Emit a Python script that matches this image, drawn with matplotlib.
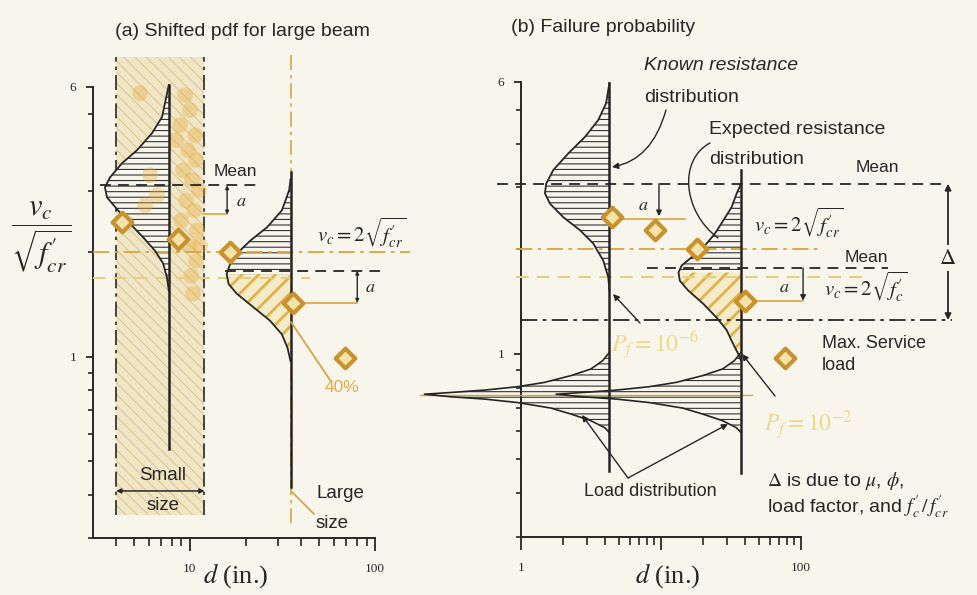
import matplotlib
matplotlib.use('Agg')
import matplotlib.pyplot as plt
import matplotlib.transforms as mtransforms
from matplotlib.path import Path
from matplotlib.patches import FancyArrowPatch
from matplotlib.ticker import FixedLocator, FixedFormatter, NullFormatter

plt.rcParams['font.family'] = ['Liberation Sans', 'DejaVu Sans']
plt.rcParams['mathtext.fontset'] = 'stix'
plt.rcParams['hatch.linewidth'] = 0.8

# ------------------------------------------------------------------ data
# panel (a): shifted pdf for large beam
band_x = [4.0, 12.0]                 # small-size test range (in.)
band_y = [0.35, 7.3]
small_base_x = 7.7
small_base_y = [6.07, 0.54]
small_pdf_y = [6.07, 4.91, 4.41, 3.94, 3.61, 3.29, 3.08, 2.88, 2.64, 2.42, 2.21, 2.02, 1.86, 1.69, 1.55]
small_pdf_x = [7.7, 7.08, 6.25, 5.19, 4.30, 3.71, 3.48, 3.57, 4.10, 4.75, 5.59, 6.49, 7.17, 7.53, 7.7]
large_base_x = 35.0
large_base_y = [3.4, 0.42]
large_guide_y = [7.4, 0.33]
large_pdf_y = [3.25, 3.02, 2.64, 2.36, 2.16, 1.98, 1.85, 1.73, 1.62, 1.52, 1.39, 1.27, 1.16, 1.06, 0.97]
large_pdf_x = [35.0, 34.4, 31.4, 26.1, 21.2, 17.9, 16.5, 15.8, 16.2, 17.9, 22.0, 27.1, 31.4, 33.7, 35.0]
large_split = 7                        # index of the pdf peak
cloud_x = [9.43, 10.04, 8.86, 10.68, 9.79, 10.81, 9.20, 10.28, 11.22, 9.55, 10.55, 8.97,
           10.95, 9.91, 10.81, 10.16, 10.41, 6.10, 6.65, 5.73, 5.39, 8.43, 11.36]
cloud_y = [5.68, 5.14, 4.65, 4.35, 3.94, 3.69, 3.45, 3.23, 3.02, 2.82, 2.64, 2.47,
           2.31, 2.09, 1.89, 1.71, 1.52, 3.34, 2.92, 2.73, 5.75, 4.21, 2.09]
diamA_x = [4.29, 8.64, 16.5, 36.1, 69.0]
diamA_y = [2.44, 2.19, 2.00, 1.43, 0.99]
meanA_small, meanA_small_x = 3.12, [3.27, 23.0]
meanA_large, meanA_large_x = 1.77, [15.5, 106.0]
vcA, vcA_x = 2.0, [3.0, 155.0]
vcA_shift, vcA_shift_x = 1.69, [3.0, 44.6]
aA_small = dict(x=15.9, y0=3.12, y1=2.57, ox=[12.0, 15.9])
aA_large = dict(x=80.2, y0=1.77, y1=1.43, ox=[37.0, 80.2])
small_arrow_y = 0.41

# panel (b): failure probability
known_base_x = 4.3
known_base_y = [5.95, 0.463]
known_pdf_y = [5.95, 5.21, 4.67, 4.18, 3.75, 3.36, 3.07, 2.88, 2.69, 2.46, 2.26, 2.07, 1.85, 1.66, 1.52]
known_pdf_x = [4.3, 4.07, 3.58, 2.88, 2.19, 1.71, 1.52, 1.49, 1.62, 2.02, 2.65, 3.30, 3.89, 4.22, 4.3]
exp_base_x = 37.5
exp_base_y = [3.36, 0.457]
exp_pdf_y = [3.07, 2.88, 2.63, 2.41, 2.21, 2.02, 1.89, 1.79, 1.71, 1.62, 1.52, 1.39, 1.27, 1.17, 1.09, 1.0, 0.957]
exp_pdf_x = [37.5, 34.9, 32.1, 28.0, 24.4, 20.2, 16.6, 14.1, 13.4, 13.7, 15.7, 20.2, 25.1, 29.6, 32.1, 35.8, 37.5]
exp_split = 8
load_pdf_y = [1.01, 0.957, 0.906, 0.867, 0.829, 0.806, 0.788, 0.776, 0.767, 0.754, 0.743,
              0.726, 0.700, 0.673, 0.644, 0.616, 0.596]
load_pdf_ratio = [1.0, 0.896, 0.739, 0.532, 0.343, 0.221, 0.128, 0.074, 0.0477, 0.074, 0.128,
                  0.221, 0.383, 0.532, 0.739, 0.921, 1.0]
load_mean, load_mean_x = 0.765, [0.19, 45.0]
diamB_x = [4.47, 9.1, 18.1, 40.0, 77.3]
diamB_y = [2.47, 2.26, 2.00, 1.42, 0.976]
meanB_known, meanB_known_x = 3.07, [0.68, 1040.0]
meanB_exp, meanB_exp_x = 1.76, [7.98, 421.0]
vcB_cr, vcB_cr_x = 2.0, [0.93, 133.0]
vcB_c, vcB_c_x = 1.66, [0.93, 313.0]
service, service_x = 1.25, [1.0, 1205.0]
delta_x = 1128.0
aB_upper = dict(x=9.72, y0=3.07, y1=2.48, oy=2.44, ox=[4.56, 14.9])
aB_lower = dict(x=104.0, y0=1.76, y1=1.42, oy=1.42, ox=[45.0, 104.0])

# ------------------------------------------------------------------ style
BG = '#f7f5ec'
INK = '#262626'
GOLD = '#c8922c'
GOLD_FACE = '#f3e2ab'
ORANGE_LINE = '#d9a440'
YELLOW_LINE = '#e3cf80'
BAND_FACE = '#f0e6c6'
BAND_HATCH = '#d8c58c'
ORANGE_HATCH = '#e0b24a'
ORANGE_FACE = '#f5ebc8'
PALE = '#ecd98c'
SERIF = 'Liberation Serif'

W, H = 978, 595
fig = plt.figure(figsize=(W / 100, H / 100), dpi=100, facecolor=BG)
PX = mtransforms.Affine2D().scale(1 / W, -1 / H).translate(0, 1) + fig.transFigure

axA = fig.add_axes([93 / W, 1 - 538 / H, 282 / W, (538 - 86.8) / H])
axB = fig.add_axes([520.7 / W, 1 - 536.7 / H, 280 / W, (536.7 - 82) / H])


def setup(ax, xlim, xmajor, xlabels, xminor):
    ax.set_xscale('log')
    ax.set_yscale('log')
    ax.set_xlim(*xlim)
    ax.set_ylim(0.3, 6)
    ax.patch.set_alpha(0)
    for s in ['top', 'right']:
        ax.spines[s].set_visible(False)
    for s in ['left', 'bottom']:
        ax.spines[s].set_linewidth(1.4)
        ax.spines[s].set_color(INK)
    ax.xaxis.set_major_locator(FixedLocator(xmajor))
    ax.xaxis.set_major_formatter(FixedFormatter(xlabels))
    ax.xaxis.set_minor_locator(FixedLocator(xminor))
    ax.xaxis.set_minor_formatter(NullFormatter())
    ax.yaxis.set_major_locator(FixedLocator([1, 6]))
    ax.yaxis.set_major_formatter(FixedFormatter(['1', '6']))
    ax.yaxis.set_minor_locator(FixedLocator([0.3, 0.4, 0.5, 0.6, 0.7, 0.8, 0.9, 2, 3, 4, 5]))
    ax.yaxis.set_minor_formatter(NullFormatter())
    ax.tick_params(axis='x', which='major', length=9, width=1.3, pad=9, labelsize=9.5,
                   colors=INK, labelfontfamily=SERIF)
    ax.tick_params(axis='x', which='minor', length=5.5, width=1.2, colors=INK)
    ax.tick_params(axis='y', which='major', length=5, width=1.3, pad=7, labelsize=9.5,
                   colors=INK, labelfontfamily=SERIF)
    ax.tick_params(axis='y', which='minor', length=3.5, width=1.2, colors=INK)


setup(axA, (3, 100), [10, 100], ['10', '100'], [4, 5, 6, 7, 8, 9, 20, 30, 40, 50, 60, 70, 80, 90])
setup(axB, (1, 100), [1, 10, 100], ['1', '', '100'],
      [2, 3, 4, 5, 6, 7, 8, 9, 20, 30, 40, 50, 60, 70, 80, 90])


def fill_hatch(ax, xs, ys, base, face, hcolor, hatch, z, hlw=0.8):
    if face != 'none':
        ax.fill_betweenx(ys, xs, base, facecolor=face, edgecolor='none', zorder=z, clip_on=False)
    with plt.rc_context({'hatch.linewidth': hlw}):
        ax.fill_betweenx(ys, xs, base, facecolor='none', edgecolor=hcolor, hatch=hatch,
                         linewidth=0, zorder=z + 0.1, clip_on=False)


def hline(ax, y, xr, color, ls, lw=1.3, z=5):
    ax.plot(xr, [y, y], color=color, ls=ls, lw=lw, zorder=z, clip_on=False)


def vline(ax, x, yr, color, ls='-', lw=1.8, z=5):
    ax.plot([x, x], yr, color=color, ls=ls, lw=lw, zorder=z, clip_on=False)


def arrow(ax, x, y0, y1, style='-|>', ms=7, color=INK, lw=1.0):
    ax.annotate('', xy=(x, y1), xytext=(x, y0), annotation_clip=False,
                arrowprops=dict(arrowstyle=style, color=color, lw=lw, mutation_scale=ms,
                                shrinkA=0, shrinkB=0), zorder=6)


DASH = (0, (6, 4))
DASHDOT = (0, (9, 3, 2, 3))

# ------------------------------------------------------------------ panel (a)
axA.fill_between(band_x, band_y[0], band_y[1], facecolor=BAND_FACE, edgecolor='none',
                 zorder=1, clip_on=False)
with plt.rc_context({'hatch.linewidth': 0.7}):
    axA.fill_between(band_x, band_y[0], band_y[1], facecolor='none', edgecolor=BAND_HATCH,
                     hatch='\\\\\\', linewidth=0, zorder=1.1, clip_on=False)
for bx in band_x:
    vline(axA, bx, band_y, INK, DASHDOT, lw=1.2, z=2)

fill_hatch(axA, small_pdf_x, small_pdf_y, small_base_x, BG, '#333333', '---', 2)
axA.scatter(cloud_x, cloud_y, s=130, color='#e9ad3c', alpha=0.38, edgecolor='none',
            zorder=2.5, clip_on=False)
axA.plot(small_pdf_x, small_pdf_y, color=INK, lw=1.3, zorder=4, clip_on=False)
vline(axA, small_base_x, small_base_y, INK, lw=1.8, z=4)

vline(axA, large_base_x, large_guide_y, ORANGE_LINE, DASHDOT, lw=1.2, z=1.5)
fill_hatch(axA, large_pdf_x[:large_split + 1], large_pdf_y[:large_split + 1], large_base_x,
           'none', '#333333', '---', 2)
fill_hatch(axA, large_pdf_x[large_split:], large_pdf_y[large_split:], large_base_x,
           ORANGE_FACE, ORANGE_HATCH, '//', 2, hlw=2.0)
axA.plot(large_pdf_x, large_pdf_y, color=INK, lw=1.3, zorder=4, clip_on=False)
vline(axA, large_base_x, large_base_y, INK, lw=1.8, z=4)

hline(axA, vcA, vcA_x, ORANGE_LINE, DASHDOT, lw=1.3, z=3)
hline(axA, vcA_shift, vcA_shift_x, YELLOW_LINE, DASH, lw=1.5, z=3)
hline(axA, meanA_small, meanA_small_x, INK, DASH, lw=1.3)
hline(axA, meanA_large, meanA_large_x, INK, DASH, lw=1.3)

for d in (aA_small, aA_large):
    hline(axA, d['y1'], d['ox'], ORANGE_LINE, '-', lw=1.2, z=4)
    arrow(axA, d['x'], d['y0'], d['y1'], style='<|-|>', ms=5)

axA.scatter(diamA_x, diamA_y, marker='D', s=100, facecolor=GOLD_FACE, edgecolor=GOLD,
            linewidth=3, zorder=7, clip_on=False)
axA.annotate('', xy=(band_x[0], small_arrow_y), xytext=(band_x[1], small_arrow_y),
             annotation_clip=False,
             arrowprops=dict(arrowstyle='<|-|>', color=INK, lw=1.1, mutation_scale=7,
                             shrinkA=0, shrinkB=0), zorder=6)

# ------------------------------------------------------------------ panel (b)
fill_hatch(axB, known_pdf_x, known_pdf_y, known_base_x, 'none', '#333333', '---', 2)
axB.plot(known_pdf_x, known_pdf_y, color=INK, lw=1.3, zorder=4, clip_on=False)

fill_hatch(axB, exp_pdf_x[:exp_split + 1], exp_pdf_y[:exp_split + 1], exp_base_x,
           'none', '#333333', '---', 2)
fill_hatch(axB, exp_pdf_x[exp_split:], exp_pdf_y[exp_split:], exp_base_x,
           ORANGE_FACE, ORANGE_HATCH, '//', 2, hlw=2.0)
axB.plot(exp_pdf_x, exp_pdf_y, color=INK, lw=1.3, zorder=4, clip_on=False)

for base in (known_base_x, exp_base_x):
    lx = [base * r for r in load_pdf_ratio]
    fill_hatch(axB, lx, load_pdf_y, base, 'none', '#333333', '---', 2.2)
    axB.plot(lx, load_pdf_y, color=INK, lw=1.2, zorder=4, clip_on=False)
hline(axB, load_mean, load_mean_x, ORANGE_LINE, '-', lw=1.0, z=3)

vline(axB, known_base_x, known_base_y, INK, lw=1.8, z=4.5)
vline(axB, exp_base_x, exp_base_y, INK, lw=1.8, z=4.5)

hline(axB, vcB_cr, vcB_cr_x, ORANGE_LINE, DASHDOT, lw=1.3, z=3)
hline(axB, vcB_c, vcB_c_x, YELLOW_LINE, DASH, lw=1.5, z=3)
hline(axB, meanB_known, meanB_known_x, INK, DASH, lw=1.3)
hline(axB, meanB_exp, meanB_exp_x, INK, DASH, lw=1.3)
hline(axB, service, service_x, INK, DASHDOT, lw=1.3)

hline(axB, aB_upper['oy'], aB_upper['ox'], ORANGE_LINE, '-', lw=1.2, z=4)
hline(axB, aB_lower['oy'], aB_lower['ox'], ORANGE_LINE, '-', lw=1.2, z=4)
arrow(axB, aB_upper['x'], aB_upper['y0'], aB_upper['y1'], ms=8)
arrow(axB, aB_lower['x'], aB_lower['y0'], aB_lower['y1'], ms=8)
arrow(axB, delta_x, meanB_known, service, style='<|-|>', ms=9, lw=1.3)

axB.scatter(diamB_x, diamB_y, marker='D', s=100, facecolor=GOLD_FACE, edgecolor=GOLD,
            linewidth=3, zorder=7, clip_on=False)

# ------------------------------------------------------------------ text (reference pixel layout)
def txt(x, y, s, size=12, ha='left', va='center', **kw):
    fig.text(x, y, s, transform=PX, ha=ha, va=va, fontsize=size, color=kw.pop('color', INK), **kw)


def pointer(p0, p1, color=INK, style='-|>', lw=1.0):
    fig.add_artist(FancyArrowPatch(posA=p0, posB=p1, transform=PX, arrowstyle=style,
                                   mutation_scale=9, color=color, lw=lw,
                                   shrinkA=0, shrinkB=0, zorder=8))


def curve_pointer(verts, codes, style='-|>'):
    fig.add_artist(FancyArrowPatch(path=Path(verts, codes), transform=PX, arrowstyle=style,
                                   mutation_scale=9, color=INK, lw=1.0, zorder=8))


txt(115, 31, '(a) Shifted pdf for large beam', 14)
txt(511, 27, '(b) Failure probability', 14)

txt(41, 237, r'$\dfrac{v_c}{\sqrt{f_{cr}^{\prime}}}$', 22, ha='center')
txt(236, 576, r'$d$ (in.)', 19, ha='center', family=SERIF)
txt(668, 576, r'$d$ (in.)', 19, ha='center', family=SERIF)

txt(235, 172, 'Mean', 12.5, ha='center')
txt(236, 201, r'$a$', 13)
txt(362, 233, r'$v_c=2\sqrt{f_{cr}^{\prime}}$', 15, ha='center')
txt(365, 288, r'$a$', 13)
txt(342, 387, '40%', 12.5, ha='center', color='#e2ad45')
txt(163, 475, 'Small', 13.5, ha='center')
txt(163, 505, 'size', 13.5, ha='center')
txt(316, 494, 'Large', 13.5)
txt(316, 523, 'size', 13.5)
pointer((291, 322), (330, 380), color=ORANGE_LINE, style='-', lw=1.3)
pointer((292, 492), (314, 514), color=ORANGE_LINE, style='-', lw=1.3)

txt(644, 66, 'Known resistance', 14, style='italic')
txt(644, 97, 'distribution', 14)
txt(709, 129, 'Expected resistance', 14)
txt(709, 160, 'distribution', 14)
txt(877, 167, 'Mean', 12.5, ha='center')
txt(866, 257, 'Mean', 12.5, ha='center')
txt(799, 223, r'$v_c=2\sqrt{f_{cr}^{\prime}}$', 15, ha='center')
txt(866, 287, r'$v_c=2\sqrt{f_{c}^{\prime}}$', 15, ha='center')
txt(643, 206, r'$a$', 13, ha='center')
txt(784, 288, r'$a$', 13, ha='center')
fig.text(948, 258, r'$\mathit{\Delta}$', transform=PX, ha='center', va='center', fontsize=16,
         color=INK, bbox=dict(facecolor=BG, edgecolor='none', pad=2))
txt(822, 343, 'Max. Service', 13)
txt(822, 366, 'load', 13)
txt(655, 345, r'$P_f=10^{-6}$', 17, ha='center', color=PALE)
txt(808, 425, r'$P_f=10^{-2}$', 17, ha='center', color=PALE)
txt(650, 492, 'Load distribution', 13, ha='center')
txt(767, 481, r'$\mathit{\Delta}$ is due to $\mu$, $\phi$,', 14)
txt(767, 507, r'load factor, and $f_c^{\prime}\,/\,f_{cr}^{\prime}$', 14)

curve_pointer([(666, 110), (652, 160), (612, 167)], [Path.MOVETO, Path.CURVE3, Path.CURVE3])
curve_pointer([(710, 143), (678, 160), (683, 212), (718, 238)],
              [Path.MOVETO, Path.CURVE4, Path.CURVE4, Path.CURVE4], style='-')
pointer((640, 323), (613, 294))
pointer((775, 396), (742, 354))
pointer((628, 478), (582, 415))
pointer((628, 478), (728, 424))

fig.savefig('out.png', dpi=100, facecolor=BG)
